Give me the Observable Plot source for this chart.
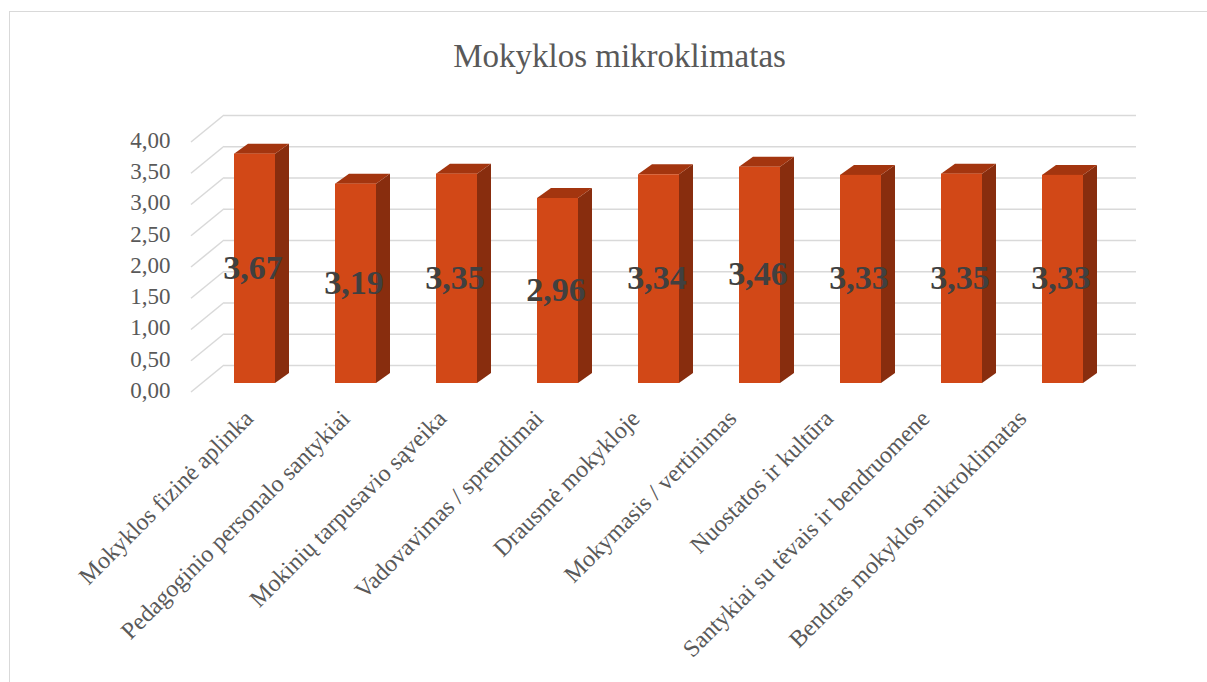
<!DOCTYPE html>
<html>
<head>
<meta charset="utf-8">
<script src="https://cdn.jsdelivr.net/npm/d3@7"></script>
<script src="https://cdn.jsdelivr.net/npm/@observablehq/plot@0.6"></script>
<style>
  html, body { margin: 0; padding: 0; background: #fff; overflow: hidden; }
  #wrap { position: relative; width: 1207px; height: 682px; overflow: hidden; }
  #border { position: absolute; left: 9px; top: 11px; width: 1220px; height: 720px;
            border: 1.5px solid #d9d9d9; box-sizing: border-box; pointer-events: none; }
  #chart { position: absolute; left: 0; top: 0; }
</style>
</head>
<body>
<div id="wrap"><div id="chart"></div><div id="border"></div></div>
<script>
const title = "Mokyklos mikroklimatas";
const categories = [
  "Mokyklos fizinė aplinka",
  "Pedagoginio personalo santykiai",
  "Mokinių tarpusavio sąveika",
  "Vadovavimas / sprendimai",
  "Drausmė mokykloje",
  "Mokymasis / vertinimas",
  "Nuostatos ir kultūra",
  "Santykiai su tėvais ir bendruomene",
  "Bendras mokyklos mikroklimatas"
];
const values = [3.67, 3.19, 3.35, 2.96, 3.34, 3.46, 3.33, 3.35, 3.33];
const yTicks = [0, 0.5, 1, 1.5, 2, 2.5, 3, 3.5, 4];

const data = categories.map((c, i) => ({category: c, value: values[i]}));
const fmt = v => v.toFixed(2).replace(".", ",");

const FRONT = "#d24817", TOP = "#a3350f", SIDE = "#882d0e";
const GRID = "#d9d9d9", TEXT = "#595959";
const depthX = 14, depthY = -10;       // visible bar depth
const wallDX = 22, wallDY = -18;       // back wall offset from bar front plane
const sideDX = -11, sideDY = 9;        // side wall front end offset
const padIn = 0.595;

function bandwidth(sx, dims) {
  if (typeof sx.bandwidth === "function") return sx.bandwidth();
  if (typeof sx.bandwidth === "number") return sx.bandwidth;
  const n = categories.length;
  const step = (dims.width - dims.marginLeft - dims.marginRight) / n;
  return step * (1 - padIn);
}

function renderFaces(kind) {
  return (index, scales, v, dims) => {
    const g = d3.create("svg:g");
    const bw = bandwidth(scales.x, dims);
    for (const i of index) {
      const x0 = v.x[i], x1 = x0 + bw;
      const yt = Math.min(v.y1[i], v.y2[i]), yb = Math.max(v.y1[i], v.y2[i]);
      let pts;
      if (kind === "side") {
        pts = [[x1, yb], [x1 + depthX, yb + depthY], [x1 + depthX, yt + depthY], [x1, yt]];
        g.append("polygon").attr("points", pts.join(" ")).attr("fill", SIDE);
      } else {
        pts = [[x0, yt], [x1, yt], [x1 + depthX, yt + depthY], [x0 + depthX, yt + depthY]];
        g.append("polygon").attr("points", pts.join(" ")).attr("fill", TOP);
      }
    }
    return g.node();
  };
}

function renderSideGrid(index, scales, v, dims) {
  const g = d3.create("svg:g").attr("stroke", GRID).attr("stroke-width", 1.5);
  const xl = dims.marginLeft;
  for (const i of index) {
    const y = v.y[i];
    g.append("line")
      .attr("x1", xl + wallDX).attr("y1", y + wallDY)
      .attr("x2", xl + sideDX).attr("y2", y + sideDY);
  }
  return g.node();
}

function renderCatLabels(index, scales, v, dims) {
  const g = d3.create("svg:g")
    .attr("fill", TEXT)
    .attr("font-size", 24)
    .attr("text-anchor", "end");
  const bw = bandwidth(scales.x, dims);
  const xs = Array.from(index, i => v.x[i]);
  const c0 = xs[0];
  const yBase = scales.y(0) + 37;
  for (const i of index) {
    const cx = c0 + bw / 2 + (v.x[i] - c0) * 0.957;
    g.append("text")
      .attr("transform", `translate(${cx},${yBase}) rotate(-45)`)
      .text(categories[i]);
  }
  return g.node();
}

const plot = Plot.plot({
  width: 1207,
  height: 682,
  marginLeft: 202,
  marginRight: 93,
  marginTop: 133,
  marginBottom: 299,
  style: {fontFamily: "'Liberation Serif', 'DejaVu Serif', serif", background: "transparent", overflow: "visible"},
  x: {type: "band", domain: categories, paddingInner: padIn, paddingOuter: padIn / 2, axis: null},
  y: {domain: [0, 4], axis: null},
  marks: [
    // back wall gridlines
    Plot.ruleY(yTicks, {y: d => d, dx: wallDX, dy: wallDY, stroke: GRID, strokeWidth: 1.5}),
    // side wall gridlines
    Plot.ruleY(yTicks, {y: d => d, render: renderSideGrid}),
    // y tick labels
    Plot.text(yTicks, {y: d => d, text: d => fmt(d), frameAnchor: "left", dx: -32, dy: 7,
      textAnchor: "end", fill: TEXT, fontSize: 23}),
    // 3D bars
    Plot.barY(data, {x: "category", y: "value", render: renderFaces("side")}),
    Plot.barY(data, {x: "category", y: "value", render: renderFaces("top")}),
    Plot.barY(data, {x: "category", y: "value", fill: FRONT}),
    // value labels
    Plot.text(data, {x: "category", y: d => d.value / 2, text: d => fmt(d.value),
      dx: -2, dy: -1, fill: "#404040", fontSize: 34, fontWeight: "bold"}),
    // category labels
    Plot.text(data, {x: d => d.category, y: 0, text: "category", render: renderCatLabels}),
    // title
    Plot.text([title], {frameAnchor: "top", dx: -39, dy: -90, text: d => d,
      fill: TEXT, fontSize: 33})
  ]
});
document.getElementById("chart").appendChild(plot);
</script>
</body>
</html>
